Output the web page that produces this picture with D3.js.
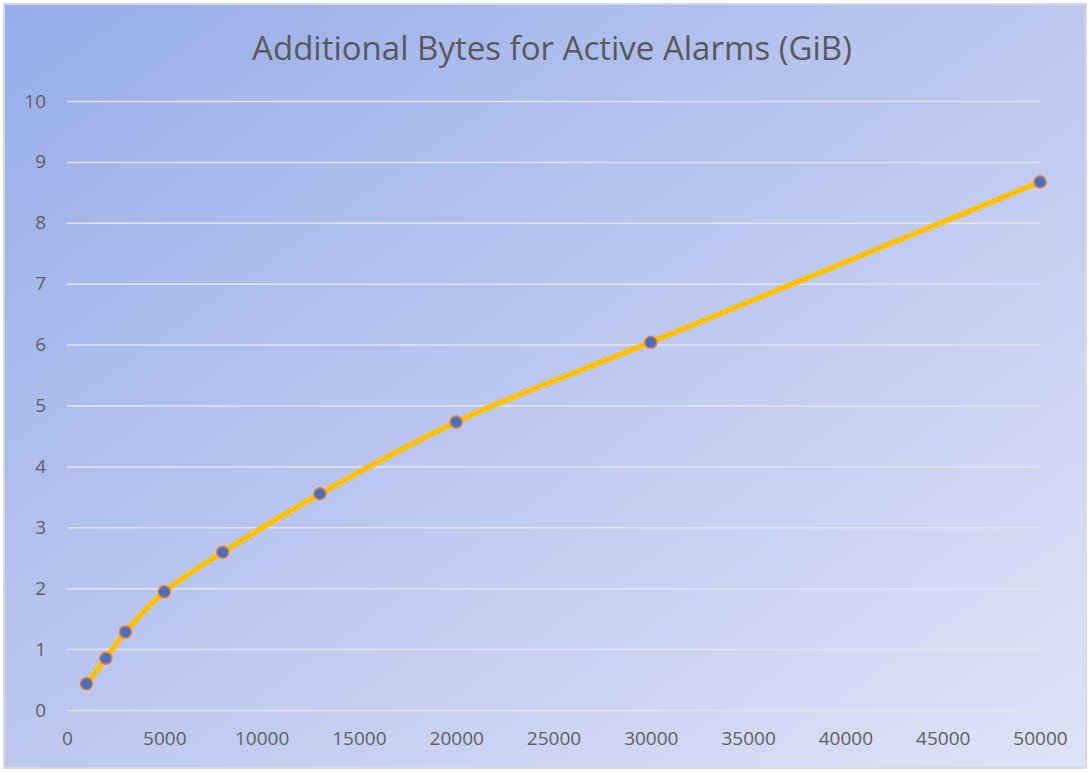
<!DOCTYPE html>
<html>
<head>
<meta charset="utf-8">
<script src="https://cdn.jsdelivr.net/npm/d3@7"></script>
<style>
  html, body { margin: 0; padding: 0; background: #ffffff; }
  svg { display: block; }
  text { font-family: "Open Sans", "Noto Sans", sans-serif; }
</style>
</head>
<body>
<div id="chart"></div>
<script>
// Data
const alarms = [1000, 2000, 3000, 5000, 8000, 13000, 20000, 30000, 50000];
const gib = [0.43, 0.85, 1.28, 1.94, 2.59, 3.55, 4.73, 6.04, 8.67];
const xTicks = [0, 5000, 10000, 15000, 20000, 25000, 30000, 35000, 40000, 45000, 50000];
const yTicks = [0, 1, 2, 3, 4, 5, 6, 7, 8, 9, 10];
const title = "Additional Bytes for Active Alarms (GiB)";

const W = 1090, H = 772;
const margin = { top: 101, right: 50, bottom: 62, left: 67 };
const width = W - margin.left - margin.right;
const height = H - margin.top - margin.bottom;

const svg = d3.select("#chart").append("svg")
    .attr("width", W)
    .attr("height", H);

// Background gradient (blue top-left fading to pale lavender bottom-right)
const defs = svg.append("defs");
const grad = defs.append("linearGradient")
    .attr("id", "bg")
    .attr("x1", "0%").attr("y1", "0%")
    .attr("x2", "100%").attr("y2", "100%");
grad.append("stop").attr("offset", "0%").attr("stop-color", "#97ade9");
grad.append("stop").attr("offset", "55%").attr("stop-color", "#bfcaf0");
grad.append("stop").attr("offset", "100%").attr("stop-color", "#dfe3f7");

svg.append("rect")
    .attr("x", 4).attr("y", 4)
    .attr("width", W - 8).attr("height", H - 8)
    .attr("fill", "url(#bg)")
    .attr("stroke", "#d9d9d9")
    .attr("stroke-width", 2);

const g = svg.append("g")
    .attr("transform", `translate(${margin.left},${margin.top})`);

// Scales
const x = d3.scaleLinear().domain([0, 50000]).range([0, width]);
const y = d3.scaleLinear().domain([0, 10]).range([height, 0]);

// Gridlines
g.append("g")
    .attr("class", "grid")
    .call(d3.axisLeft(y).tickValues(yTicks).tickSize(-width).tickFormat(""))
    .call(a => a.select(".domain").remove())
    .call(a => a.selectAll("line")
        .attr("stroke", "#e4e4e8")
        .attr("stroke-width", 1.5));

// Y axis labels
g.append("g")
    .attr("class", "y-axis")
    .call(d3.axisLeft(y).tickValues(yTicks).tickSize(0).tickPadding(21))
    .call(a => a.select(".domain").remove())
    .call(a => a.selectAll("text")
        .attr("fill", "#606060")
        .style("font-size", "19px"));

// X axis labels
g.append("g")
    .attr("class", "x-axis")
    .attr("transform", `translate(0,${height})`)
    .call(d3.axisBottom(x).tickValues(xTicks).tickSize(0).tickPadding(22).tickFormat(d3.format("d")))
    .call(a => a.select(".domain").remove())
    .call(a => a.selectAll("text")
        .attr("fill", "#606060")
        .style("font-size", "19px"));

// Title
svg.append("text")
    .attr("x", 552)
    .attr("y", 60)
    .attr("text-anchor", "middle")
    .attr("fill", "#595959")
    .style("font-size", "33px")
    .text(title);

const pts = alarms.map((d, i) => [d, gib[i]]);

// Smoothed line
const line = d3.line()
    .x(d => x(d[0]))
    .y(d => y(d[1]))
    .curve(d3.curveCatmullRom.alpha(0.5));

g.append("path")
    .datum(pts)
    .attr("fill", "none")
    .attr("stroke", "#ffc000")
    .attr("stroke-width", 5.5)
    .attr("stroke-linecap", "round")
    .attr("d", line);

// Markers
g.selectAll(".pt")
    .data(pts)
    .join("circle")
    .attr("class", "pt")
    .attr("cx", d => x(d[0]))
    .attr("cy", d => y(d[1]))
    .attr("r", 6)
    .attr("fill", "#4472c4")
    .attr("stroke", "#ed7d31")
    .attr("stroke-width", 1.5);
</script>
</body>
</html>
